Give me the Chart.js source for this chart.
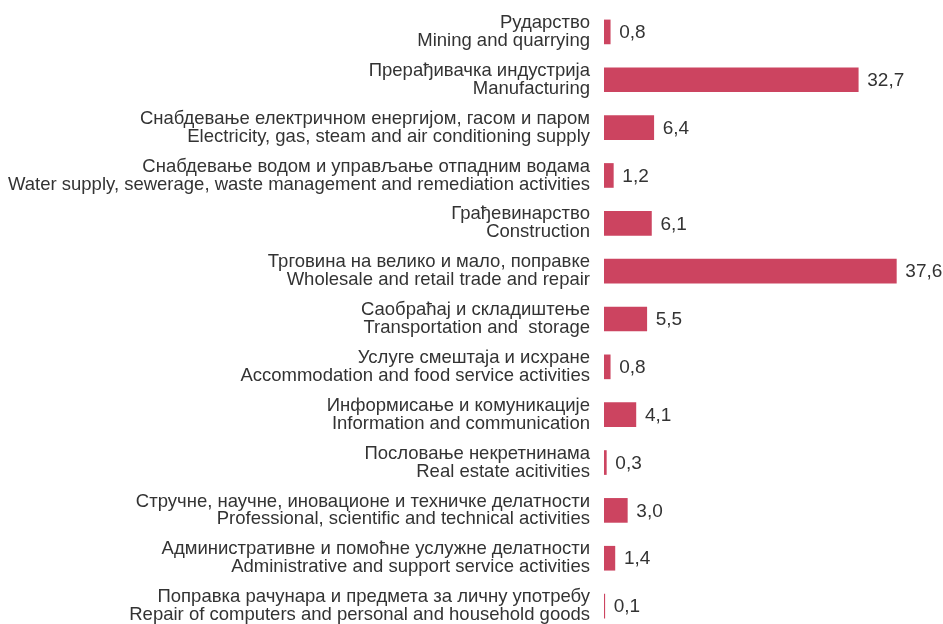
<!DOCTYPE html>
<html>
<head>
<meta charset="utf-8">
<script src="https://cdn.jsdelivr.net/npm/chart.js@4"></script>
<style>
  html, body { margin: 0; padding: 0; background: #fff; overflow: hidden; }
  #wrap { width: 943px; height: 630px; position: relative; }
</style>
</head>
<body>
<div id="wrap"><canvas id="chart"></canvas></div>
<script>
const labelsSr = [
  'Рударство',
  'Прерађивачка индустрија',
  'Снабдевање електричном енергијом, гасом и паром',
  'Снабдевање водом и управљање отпадним водама',
  'Грађевинарство',
  'Трговина на велико и мало, поправке',
  'Саобраћај и складиштење',
  'Услуге смештаја и исхране',
  'Информисање и комуникације',
  'Пословање некретнинама',
  'Стручне, научне, иновационе и техничке делатности',
  'Административне и помоћне услужне делатности',
  'Поправка рачунара и предмета за личну употребу'
];
const labelsEn = [
  'Mining and quarrying',
  'Manufacturing',
  'Electricity, gas, steam and air conditioning supply',
  'Water supply, sewerage, waste management and remediation activities',
  'Construction',
  'Wholesale and retail trade and repair',
  'Transportation and  storage',
  'Accommodation and food service activities',
  'Information and communication',
  'Real estate acitivities',
  'Professional, scientific and technical activities',
  'Administrative and support service activities',
  'Repair of computers and personal and household goods'
];
const values = [0.8, 32.7, 6.4, 1.2, 6.1, 37.6, 5.5, 0.8, 4.1, 0.3, 3.0, 1.4, 0.1];

const categories = labelsSr.map((s, i) => [s, labelsEn[i]]);

// draws the value next to each bar, decimal comma
const valueLabels = {
    id: 'valueLabels',
    afterDatasetsDraw(chart) {
        const ctx = chart.ctx;
        const meta = chart.getDatasetMeta(0);
        ctx.save();
        ctx.font = '19px "Liberation Sans", Arial, sans-serif';
        ctx.fillStyle = '#333333';
        ctx.textAlign = 'left';
        ctx.textBaseline = 'middle';
        meta.data.forEach((bar, i) => {
            ctx.fillText(values[i].toFixed(1).replace('.', ','), bar.x + 9, bar.y + 1);
        });
        ctx.restore();
    }
};

new Chart(document.getElementById('chart'), {
    type: 'bar',
    data: {
        labels: categories,
        datasets: [{
            data: values,
            backgroundColor: '#cc4460',
            barThickness: 24
        }]
    },
    options: {
        indexAxis: 'y',
        responsive: true,
        maintainAspectRatio: false,
        animation: false,
        layout: { padding: { top: 8, left: 7, right: 0, bottom: 0 } },
        scales: {
            x: {
                display: false,
                min: 0,
                max: 43.6
            },
            y: {
                grid: { display: false, drawTicks: false },
                border: { display: false },
                afterFit(scale) {
                    scale.width = 597;
                    scale.paddingTop = 0;
                    scale.paddingBottom = 0;
                },
                ticks: {
                    color: '#333333',
                    padding: 14,
                    font: { family: '"Liberation Sans", Arial, sans-serif', size: 18.5, lineHeight: 0.97 }
                }
            }
        },
        plugins: {
            legend: { display: false },
            tooltip: { enabled: false }
        }
    },
    plugins: [valueLabels]
});
</script>
</body>
</html>
